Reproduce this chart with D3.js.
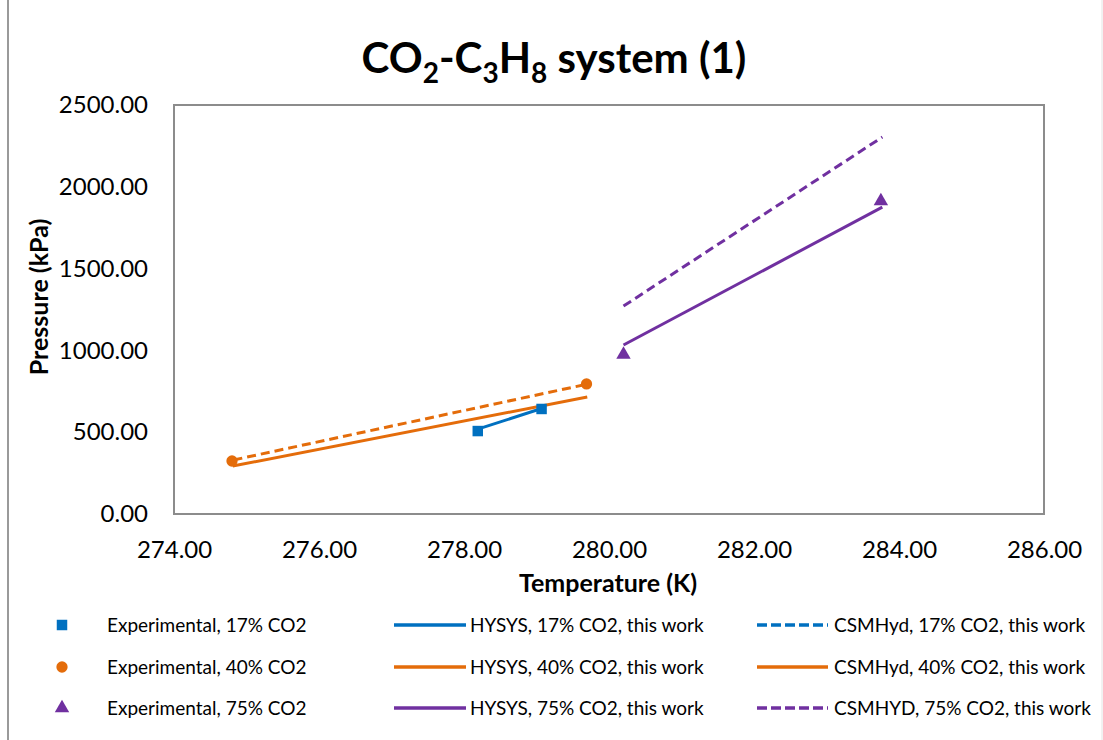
<!DOCTYPE html>
<html>
<head>
<meta charset="utf-8">
<script src="https://cdn.jsdelivr.net/npm/d3@7"></script>
<style>
  body { margin: 0; background: #fff; }
  svg { font-family: Lato, "Open Sans", sans-serif; }
</style>
</head>
<body>
<svg id="chart" width="1103" height="740"></svg>
<script>
// axis ticks
const xTicks = [274, 276, 278, 280, 282, 284, 286]
const yTicks = [0, 500, 1000, 1500, 2000, 2500]

// experimental points [T (K), P (kPa)]
const exp17 = [[278.19, 507], [279.07, 642]]
const exp40 = [[274.80, 324], [279.69, 795]]
const exp75 = [[280.20, 975], [283.75, 1913]]

// model lines
const hysys17 = [[278.20, 520], [279.07, 645]]
const hysys40 = [[274.81, 293], [279.70, 715]]
const csm40 = [[274.82, 330], [279.66, 790]]
const hysys75 = [[280.20, 1033], [283.77, 1876]]
const csm75 = [[280.20, 1271], [283.77, 2304]]

const blue = '#0070c0', orange = '#e46c0a', purple = '#7030a0'

const svg = d3.select('#chart')
const margin = { top: 105, right: 59, bottom: 226, left: 174 }
const width = 1103 - margin.left - margin.right,
height = 740 - margin.top - margin.bottom

// outer chart frame
svg.append('line').attr('x1', 8).attr('x2', 8).attr('y1', 0).attr('y2', 740)
  .attr('stroke', '#9a9a9a').attr('stroke-width', 2)
svg.append('line').attr('x1', 1102).attr('x2', 1102).attr('y1', 0).attr('y2', 740)
  .attr('stroke', '#e4e4e4').attr('stroke-width', 1)

const x = d3.scaleLinear().domain([274, 286]).range([0, width])
const y = d3.scaleLinear().domain([0, 2500]).range([height, 0])

const g = svg.append('g').attr('transform', `translate(${margin.left},${margin.top})`)

g.append('rect').attr('width', width).attr('height', height)
  .attr('fill', 'none').attr('stroke', '#8c8c8c').attr('stroke-width', 2)

// axes, no tick lines
const xAxis = g.append('g').attr('transform', `translate(0,${height})`)
  .call(d3.axisBottom(x).tickValues(xTicks).tickFormat(d3.format('.2f')).tickSize(0).tickPadding(27))
const yAxis = g.append('g')
  .call(d3.axisLeft(y).tickValues(yTicks).tickFormat(d3.format('.2f')).tickSize(0).tickPadding(26))
xAxis.select('.domain').remove()
yAxis.select('.domain').remove()
g.selectAll('.tick text').attr('font-size', 24).attr('fill', '#000')
  .attr('font-family', 'Lato, sans-serif')

const line = d3.line().x(d => x(d[0])).y(d => y(d[1]))

const series = [
  { data: hysys17, color: blue, dash: null },
  { data: hysys40, color: orange, dash: null },
  { data: csm40, color: orange, dash: '9,5' },
  { data: hysys75, color: purple, dash: null },
  { data: csm75, color: purple, dash: '9,5' }
]
series.forEach(s => {
  g.append('path').datum(s.data).attr('d', line)
    .attr('fill', 'none').attr('stroke', s.color).attr('stroke-width', 3)
    .attr('stroke-dasharray', s.dash)
})

const sym = {
  square: d3.symbol().type(d3.symbolSquare).size(110),
  circle: d3.symbol().type(d3.symbolCircle).size(100),
  triangle: d3.symbol().type(d3.symbolTriangle).size(90)
}
const points = [
  { data: exp17, color: blue, shape: 'square' },
  { data: exp40, color: orange, shape: 'circle' },
  { data: exp75, color: purple, shape: 'triangle' }
]
points.forEach(p => {
  g.selectAll(null).data(p.data).join('path')
    .attr('d', sym[p.shape])
    .attr('transform', d => `translate(${x(d[0])},${y(d[1])})`)
    .attr('fill', p.color)
})

// title
const title = svg.append('text').attr('x', 554).attr('y', 73)
  .attr('text-anchor', 'middle').attr('font-size', 42).attr('font-weight', 'bold')
title.append('tspan').text('CO')
title.append('tspan').text('2').attr('font-size', 28).attr('dy', 10)
title.append('tspan').text('-C').attr('dy', -10)
title.append('tspan').text('3').attr('font-size', 28).attr('dy', 10)
title.append('tspan').text('H').attr('dy', -10)
title.append('tspan').text('8').attr('font-size', 28).attr('dy', 10)
title.append('tspan').text(' system (1)').attr('dy', -10)

// axis titles
svg.append('text').attr('x', 608).attr('y', 592).attr('text-anchor', 'middle')
  .attr('font-size', 25).attr('font-weight', 'bold').text('Temperature (K)')
svg.append('text').attr('transform', 'translate(48,297) rotate(-90)').attr('text-anchor', 'middle')
  .attr('font-size', 25).attr('font-weight', 'bold').text('Pressure (kPa)')

// legend
const legendRows = [625, 667, 708]
const legendItems = [
  { kind: 'marker', shape: 'square', color: blue, label: 'Experimental, 17% CO2', col: 0, row: 0 },
  { kind: 'marker', shape: 'circle', color: orange, label: 'Experimental, 40% CO2', col: 0, row: 1 },
  { kind: 'marker', shape: 'triangle', color: purple, label: 'Experimental, 75% CO2', col: 0, row: 2 },
  { kind: 'line', color: blue, dash: null, label: 'HYSYS, 17% CO2, this work', col: 1, row: 0 },
  { kind: 'line', color: orange, dash: null, label: 'HYSYS, 40% CO2, this work', col: 1, row: 1 },
  { kind: 'line', color: purple, dash: null, label: 'HYSYS, 75% CO2, this work', col: 1, row: 2 },
  { kind: 'line', color: blue, dash: '10,4', label: 'CSMHyd, 17% CO2, this work', col: 2, row: 0 },
  { kind: 'line', color: orange, dash: null, label: 'CSMHyd, 40% CO2, this work', col: 2, row: 1 },
  { kind: 'line', color: purple, dash: '10,4', label: 'CSMHYD, 75% CO2, this work', col: 2, row: 2 }
]
const colX = [[44, 80, 107], [394, 466, 470], [757, 828, 834]]
const legend = svg.append('g')
legendItems.forEach(it => {
  const cy = legendRows[it.row]
  const cx = colX[it.col]
  if (it.kind === 'marker') {
    legend.append('path').attr('d', sym[it.shape])
      .attr('transform', `translate(62,${cy})`).attr('fill', it.color)
  } else {
    legend.append('line').attr('x1', cx[0]).attr('x2', cx[1]).attr('y1', cy).attr('y2', cy)
      .attr('stroke', it.color).attr('stroke-width', 3.5).attr('stroke-dasharray', it.dash)
  }
  legend.append('text').attr('x', cx[2]).attr('y', cy + 7)
    .attr('font-size', 19).text(it.label)
})
</script>
</body>
</html>
